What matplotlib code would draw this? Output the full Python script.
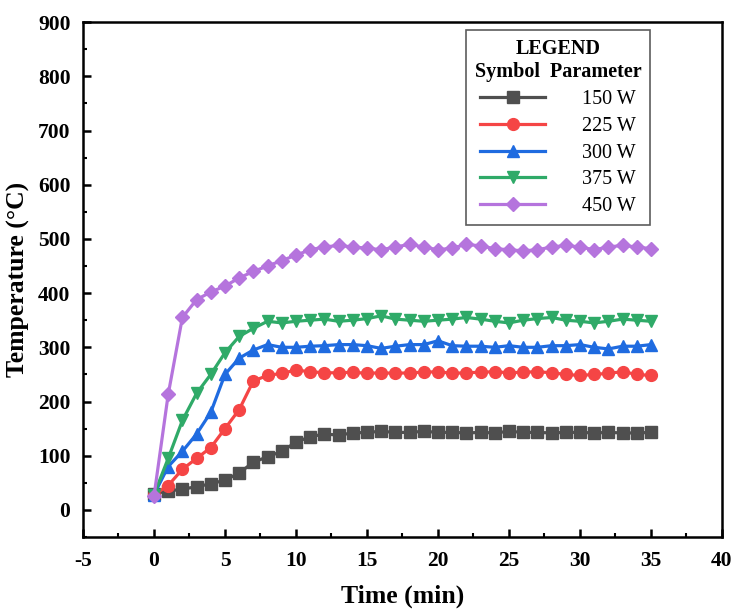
import matplotlib.pyplot as plt
from matplotlib.ticker import MultipleLocator

plt.rcParams['font.family'] = ['Liberation Serif', 'DejaVu Serif']
plt.rcParams['axes.unicode_minus'] = False

time_min = list(range(0, 36))

t_150 = [30, 35, 38, 43, 48, 55, 68, 88, 98, 108, 125, 135, 140, 138, 142, 143, 145, 143,
         143, 145, 143, 143, 142, 143, 142, 145, 143, 143, 142, 143, 143, 142, 143, 142, 142, 143]
t_225 = [28, 45, 75, 95, 115, 150, 185, 238, 248, 252, 258, 255, 253, 253, 254, 252, 253, 252,
         253, 254, 255, 252, 253, 254, 255, 253, 254, 255, 253, 250, 248, 250, 252, 255, 250, 248]
t_300 = [28, 80, 108, 140, 180, 250, 280, 295, 305, 300, 300, 302, 303, 305, 305, 303, 298, 302,
         305, 305, 312, 303, 302, 302, 300, 303, 300, 300, 303, 303, 305, 300, 297, 302, 302, 305]
t_375 = [28, 95, 165, 215, 250, 290, 320, 335, 348, 345, 348, 350, 352, 348, 350, 353, 358, 352,
         350, 348, 350, 352, 355, 352, 348, 345, 350, 353, 355, 350, 348, 345, 348, 352, 350, 348]
t_450 = [25, 213, 355, 388, 402, 413, 428, 440, 450, 460, 470, 480, 485, 488, 485, 483, 480, 485,
         490, 485, 480, 483, 490, 487, 482, 480, 478, 480, 485, 488, 485, 480, 485, 488, 485, 482]

labels = ['150 W', '225 W', '300 W', '375 W', '450 W']
series = [t_150, t_225, t_300, t_375, t_450]
colors = ['#4f4f4f', '#f54545', '#1f6be0', '#2faa68', '#b574dd']
markers = ['s', 'o', '^', 'v', 'D']

fig = plt.figure(figsize=(7.37, 6.14), dpi=100)
ax = fig.add_axes([0.1126, 0.1254, 0.867, 0.8386])

for y, lab, c, m in zip(series, labels, colors, markers):
    ms = 7.5 if m == 'D' else 8.5
    ax.plot(time_min, y, color=c, marker=m, markersize=ms, linewidth=2.3,
            label='       ' + lab)

ax.set_xlim(-5, 40)
ax.set_ylim(-50, 900)
ax.xaxis.set_major_locator(MultipleLocator(5))
ax.xaxis.set_minor_locator(MultipleLocator(2.5))
ax.yaxis.set_minor_locator(MultipleLocator(50))
ax.set_yticks(range(0, 901, 100))
ax.tick_params(which='major', direction='in', length=6, width=1.8, labelsize=15.5, pad=9)
ax.tick_params(which='minor', direction='in', length=3, width=1.5)
ax.tick_params(axis='x', pad=10)
for lbl in ax.get_xticklabels() + ax.get_yticklabels():
    lbl.set_fontweight('bold')
for sp in ax.spines.values():
    sp.set_linewidth(1.8)

ax.set_xlabel('Time (min)', fontsize=18.5, fontweight='bold', labelpad=10)
ax.set_ylabel('Temperature (°C)', fontsize=18.5, fontweight='bold', labelpad=6)

leg = ax.legend(title='LEGEND\nSymbol  Parameter', loc='upper right',
                bbox_to_anchor=(0.888, 0.984), fontsize=14.5, handlelength=3.2,
                handletextpad=0.1, labelspacing=0.38, frameon=True, fancybox=False,
                edgecolor='#333333', borderpad=0.45, borderaxespad=0)
leg.get_frame().set_linewidth(1.2)
leg.get_title().set_fontweight('bold')
leg.get_title().set_fontsize(14.5)
leg.get_title().set_multialignment('center')

fig.savefig('out.png', dpi=100)
